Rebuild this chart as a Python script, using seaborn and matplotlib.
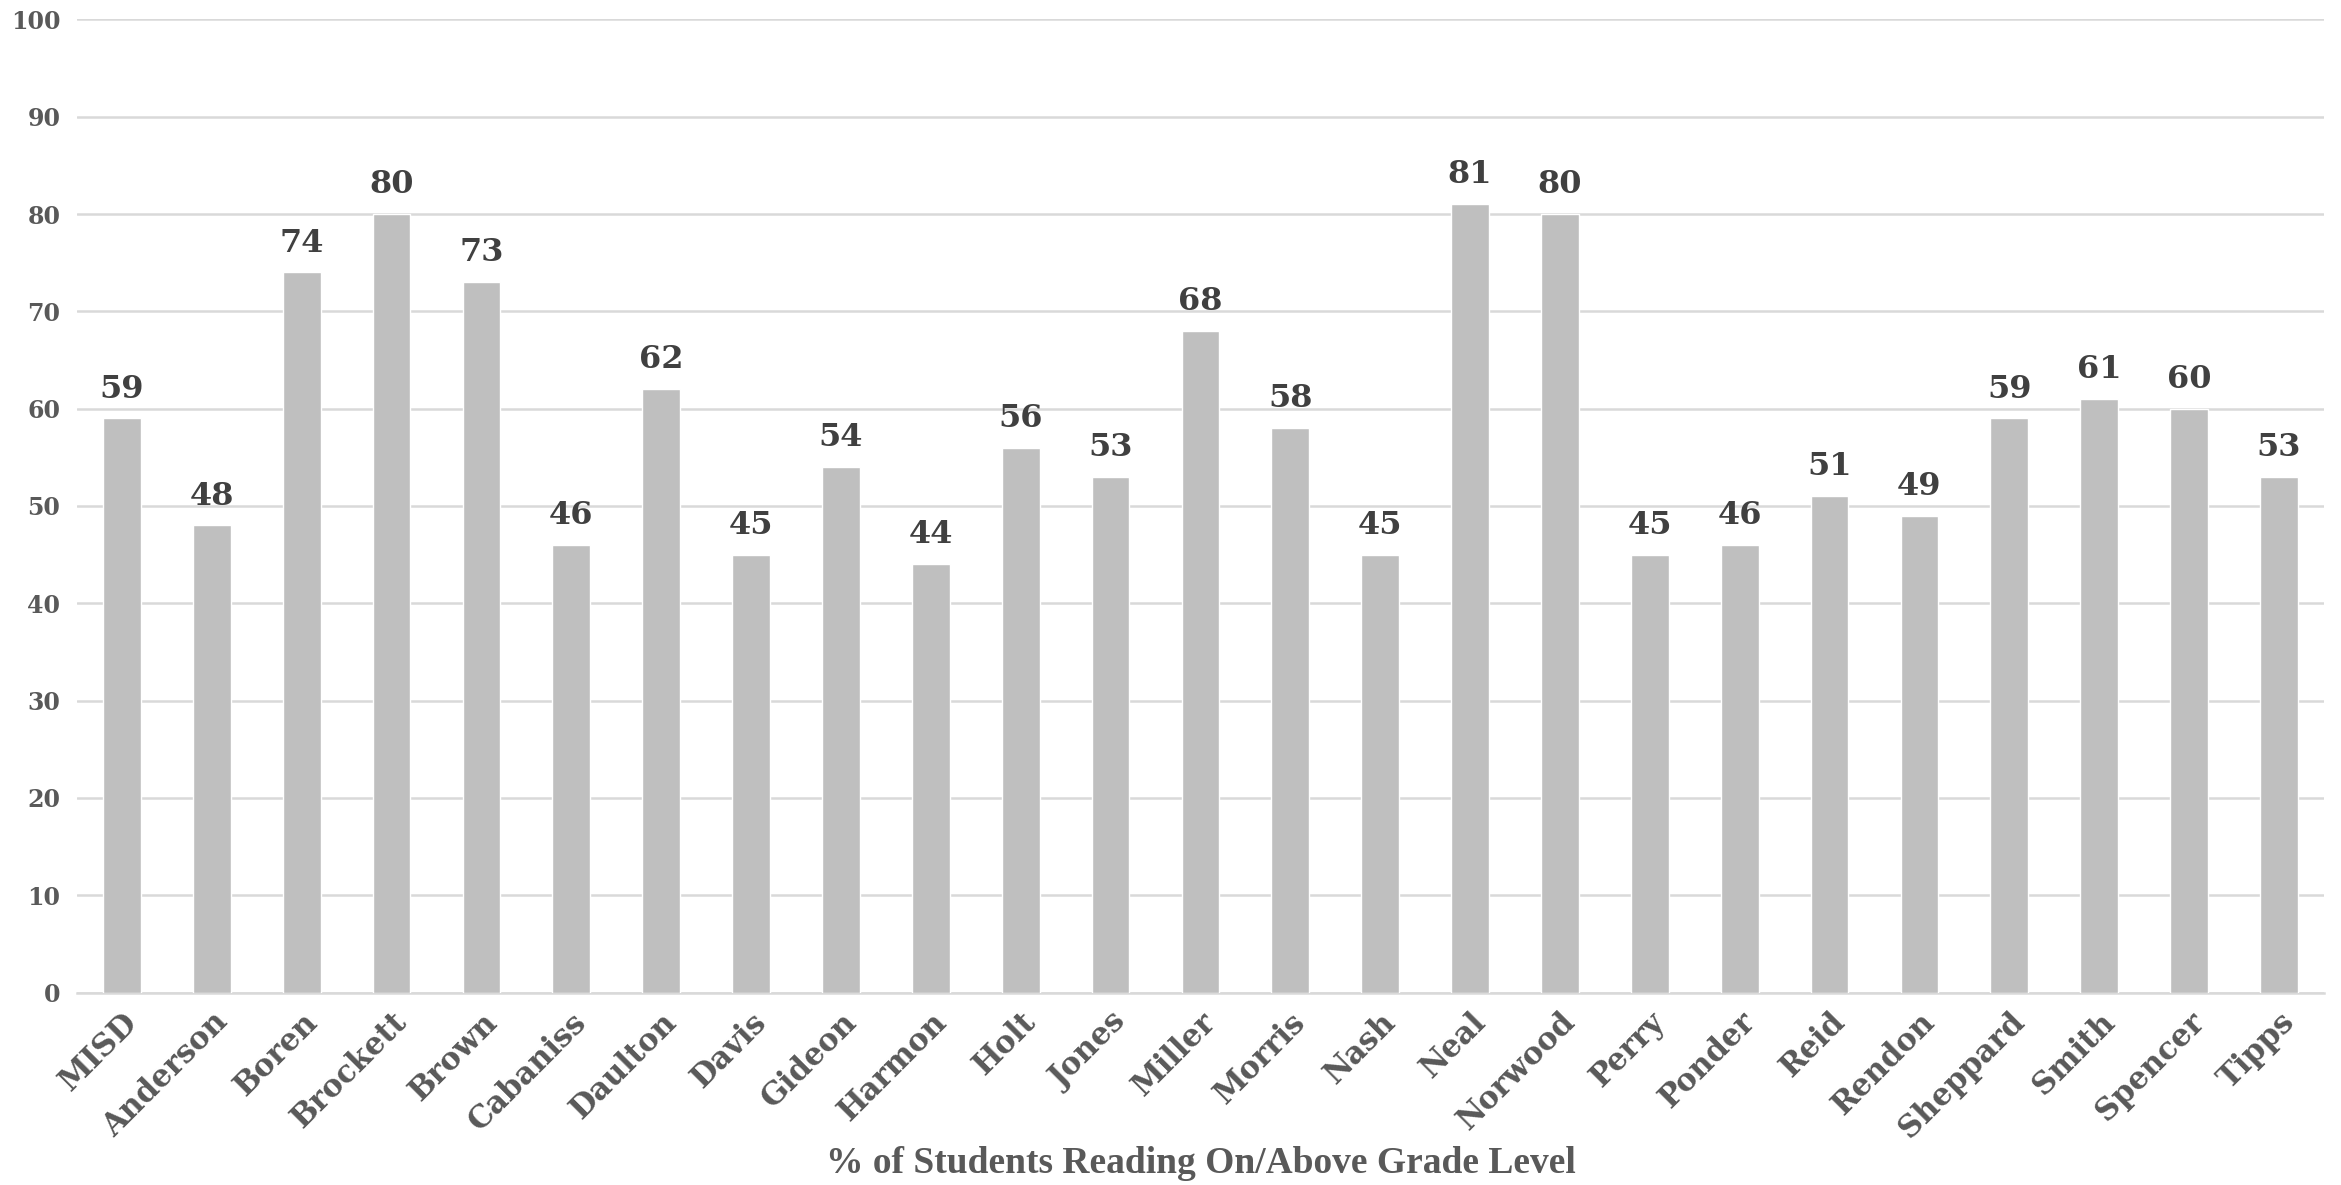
import matplotlib.pyplot as plt
import seaborn as sns
import pandas as pd

schools = ["MISD", "Anderson", "Boren", "Brockett", "Brown", "Cabaniss", "Daulton",
           "Davis", "Gideon", "Harmon", "Holt", "Jones", "Miller", "Morris", "Nash",
           "Neal", "Norwood", "Perry", "Ponder", "Reid", "Rendon", "Sheppard",
           "Smith", "Spencer", "Tipps"]
pct_reading = [59, 48, 74, 80, 73, 46, 62, 45, 54, 44, 56, 53, 68, 58, 45,
               81, 80, 45, 46, 51, 49, 59, 61, 60, 53]
y_ticks = list(range(0, 101, 10))

df = pd.DataFrame({"school": schools, "pct": pct_reading})

sns.set_style("white")
plt.rcParams["font.family"] = ["DejaVu Serif"]

fig = plt.figure(figsize=(23.41, 11.85), dpi=100)
ax = fig.add_axes([0.0329, 0.1624, 0.9598, 0.8212])

sns.barplot(data=df, x="school", y="pct", color="#BFBFBF", saturation=1,
            width=0.42, ax=ax, zorder=3)

ax.set_ylim(0, 100)
ax.set_xlim(-0.5, len(schools) - 0.5)
ax.set_yticks(y_ticks)
ax.yaxis.grid(True, color="#D9D9D9", linewidth=1.8, zorder=0)
ax.set_axisbelow(True)
for side in ["top", "right", "left"]:
    ax.spines[side].set_visible(False)
ax.spines["bottom"].set_color("#D9D9D9")
ax.spines["bottom"].set_linewidth(1.8)

ax.tick_params(axis="both", length=0)
ax.tick_params(axis="y", pad=12)
ax.tick_params(axis="x", pad=10)
for lbl in ax.get_yticklabels():
    lbl.set_fontsize(17)
    lbl.set_fontweight("bold")
    lbl.set_color("#595959")
ax.set_xticks(range(len(schools)))
ax.set_xticklabels(schools, rotation=45, ha="right", rotation_mode="anchor",
                   fontsize=22, fontweight="bold", color="#595959")

for i, v in enumerate(pct_reading):
    ax.annotate(str(v), (i, v), xytext=(0, 10), textcoords="offset points",
                ha="center", va="bottom", fontsize=23, fontweight="bold",
                color="#404040")

ax.set_xlabel("")
ax.set_ylabel("")
# titel unter der achse, fest positioniert damit nichts abgeschnitten wird
fig.text(0.5128, 0.018, "% of Students Reading On/Above Grade Level",
         ha="center", va="center", fontsize=27, fontweight="bold",
         color="#595959", family="Liberation Serif")

fig.savefig("out.png", dpi=100)
